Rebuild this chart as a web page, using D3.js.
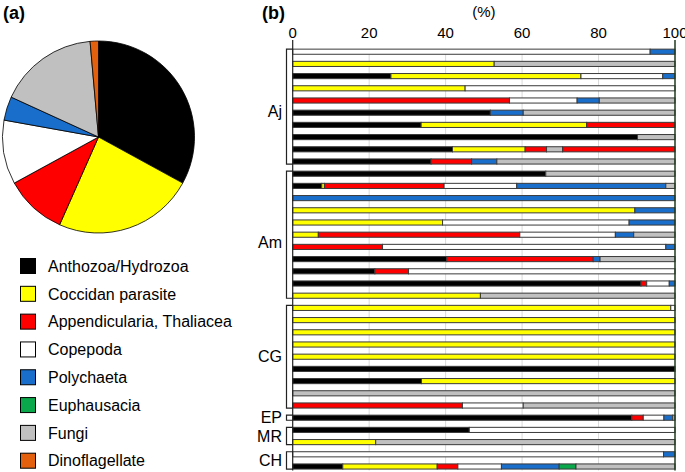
<!DOCTYPE html>
<html><head><meta charset="utf-8">
<script src="https://cdn.jsdelivr.net/npm/d3@7"></script>
<style>body{margin:0;background:#fff}svg{display:block;font-family:"Liberation Sans",Arial,sans-serif}</style>
</head><body><svg id="c" width="685" height="472"></svg>
<script>
// ---- data ----
const keys = ["anth","cocc","appe","cope","poly","euph","fung","dino"];
const categories = ["Anthozoa/Hydrozoa","Coccidan parasite","Appendicularia, Thaliacea","Copepoda","Polychaeta","Euphausacia","Fungi","Dinoflagellate"];
const pieValues = [33.0,23.7,10.4,10.8,4.0,0,16.8,1.4];
const ticks = [0,20,40,60,80,100];
const groupNames = ["Aj","Am","CG","EP","MR","CH"];
const aj = [
 [["cope",93.5],["poly",6.5]],
 [["cocc",52.7],["fung",47.3]],
 [["anth",25.7],["cocc",49.7],["cope",21.4],["poly",3.2]],
 [["cocc",45.1],["cope",54.9]],
 [["appe",56.7],["cope",17.7],["poly",5.8],["fung",19.8]],
 [["anth",51.7],["poly",8.6],["fung",39.7]],
 [["anth",33.6],["cocc",43.3],["appe",23.1]],
 [["anth",90.2],["fung",9.8]],
 [["anth",41.8],["cocc",19.0],["appe",5.6],["fung",4.2],["appe",29.4]],
 [["anth",36.2],["appe",10.6],["poly",6.6],["fung",46.6]]
];
const am = [
 [["anth",66.2],["fung",33.8]],
 [["anth",7.6],["cocc",0.7],["appe",31.3],["cope",19.0],["poly",39.0],["fung",2.4]],
 [["poly",100]],
 [["cocc",89.5],["poly",10.5]],
 [["cocc",39.2],["cope",48.8],["poly",12.0]],
 [["cocc",6.7],["appe",52.7],["cope",25.0],["poly",4.8],["fung",10.8]],
 [["appe",23.5],["cope",74.1],["poly",2.4]],
 [["anth",40.3],["appe",38.3],["poly",1.8],["fung",19.6]],
 [["anth",21.5],["appe",8.8],["cope",69.7]],
 [["anth",91.1],["appe",1.5],["cope",5.9],["poly",1.5]],
 [["cocc",49.1],["fung",50.9]]
];
const cg = [
 [["cocc",98.9],["cope",1.1]],
 [["cocc",100]],
 [["cocc",100]],
 [["cocc",100]],
 [["cocc",100]],
 [["anth",100]],
 [["anth",33.7],["cocc",66.3]],
 [["fung",100]],
 [["appe",44.4],["cope",15.9],["fung",39.7]]
];
const ep = [
 [["anth",88.7],["appe",3.0],["cope",5.4],["poly",2.3],["fung",0.6]]
];
const mr = [
 [["anth",46.2],["cope",53.8]],
 [["cocc",21.7],["fung",78.3]]
];
const ch = [
 [["cope",97.0],["poly",3.0]],
 [["anth",13.1],["cocc",24.7],["appe",5.4],["cope",11.4],["poly",15.1],["euph",4.4],["fung",25.9]]
];
const groups = [aj,am,cg,ep,mr,ch];

// ---- styles ----
const colorList = ["#000000","#ffff00","#ff0000","#ffffff","#1a6ecb","#0aa84a","#c0c0c0","#e2600e"];
const color = d3.scaleOrdinal().domain(keys).range(colorList);
const labelShift = {Aj:5, Am:8};

const svg = d3.select("#c");

// ---- (a) pie ----
svg.append("text").attr("x",3).attr("y",19).attr("font-size",18).attr("font-weight","bold").text("(a)");
const pieData = d3.pie().sort(null).value(d=>d.v)(keys.map((k,i)=>({k, v:pieValues[i]})));
const arc = d3.arc().innerRadius(0).outerRadius(96);
svg.append("g").attr("transform","translate(98.5,137)")
  .selectAll("path").data(pieData.filter(d=>d.data.v>0)).join("path")
  .attr("d",arc).attr("fill",d=>color(d.data.k)).attr("stroke","#000").attr("stroke-width",0.8);

// legend
const lg = svg.append("g");
const ly = d3.scaleLinear().domain([0,7]).range([266,460.7]);
categories.forEach((c,i)=>{
  lg.append("rect").attr("x",20.5).attr("y",ly(i)-7.5).attr("width",15).attr("height",15)
    .attr("fill",colorList[i]).attr("stroke","#000").attr("stroke-width",1);
  lg.append("text").attr("x",48).attr("y",ly(i)).attr("dy","0.36em").attr("font-size",16).text(c);
});

// ---- (b) bars ----
svg.append("text").attr("x",262).attr("y",19).attr("font-size",18).attr("font-weight","bold").text("(b)");
const x = d3.scaleLinear().domain([0,100]).range([292.7,675]);
const rows = [];
const groupInfo = [];
groups.forEach((g,gi)=>{
  const start = rows.length;
  g.forEach(r=>rows.push(r));
  groupInfo.push({name:groupNames[gi], start, end:rows.length-1});
});
const y = d3.scaleBand().domain(d3.range(rows.length)).range([45.6,472.6]).paddingInner(0.58).paddingOuter(0.29);
const bw = y.bandwidth();
const plotTop = y(0), plotBottom = 470.5;

svg.append("text").attr("x",x(50)).attr("y",17).attr("text-anchor","middle").attr("font-size",15).text("(%)");
svg.append("g").selectAll("text").data(ticks).join("text")
  .attr("x",d=>x(d)).attr("y",38).attr("text-anchor","middle").attr("font-size",15).text(d=>d);

// grid
svg.append("g").selectAll("line").data(ticks.slice(1,-1)).join("line")
  .attr("x1",d=>x(d)).attr("x2",d=>x(d)).attr("y1",plotTop).attr("y2",plotBottom)
  .attr("stroke","#d9d9d9").attr("stroke-width",1);

// bars
const bars = svg.append("g");
rows.forEach((r,i)=>{
  const ends = d3.cumsum(r.map(s=>s[1]));
  bars.selectAll(null).data(r.map((s,j)=>({k:s[0], x0: j?ends[j-1]:0, x1: ends[j]}))).join("rect")
    .attr("x",d=>x(d.x0)).attr("width",d=>x(d.x1)-x(d.x0))
    .attr("y",y(i)).attr("height",bw)
    .attr("fill",d=>color(d.k)).attr("stroke","#3a3a3a").attr("stroke-width",1);
});

// axis lines
svg.append("line").attr("x1",x(0)).attr("x2",x(0)).attr("y1",40).attr("y2",plotBottom).attr("stroke","#222").attr("stroke-width",1.2);
svg.append("line").attr("x1",x(100)).attr("x2",x(100)).attr("y1",40).attr("y2",plotBottom).attr("stroke","#1f3a1f").attr("stroke-width",1.5);

// brackets + labels
const bx = 286.5;
groupInfo.forEach(g=>{
  const y0 = y(g.start), y1 = y(g.end)+bw;
  svg.append("path").attr("d",`M${x(0)},${y0}H${bx}V${y1}H${x(0)}`)
    .attr("fill","none").attr("stroke","#222").attr("stroke-width",1.2);
  svg.append("text").attr("x",282).attr("y",(y0+y1)/2+(labelShift[g.name]||0)).attr("dy","0.36em")
    .attr("text-anchor","end").attr("font-size",16).text(g.name);
});
</script></body></html>
